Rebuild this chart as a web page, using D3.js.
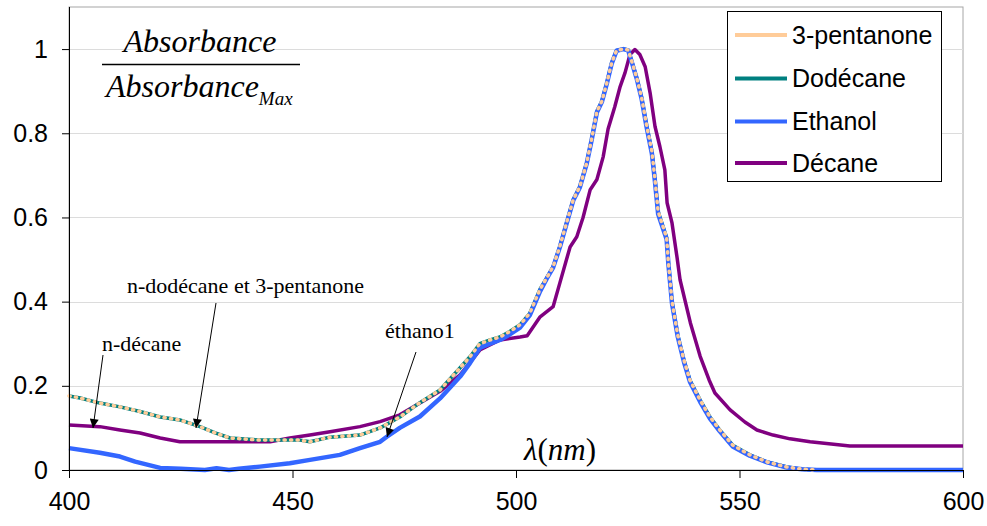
<!DOCTYPE html>
<html>
<head>
<meta charset="utf-8">
<script src="https://cdn.jsdelivr.net/npm/d3@7"></script>
<style>
  html, body { margin: 0; padding: 0; background: #fff; }
  svg { display: block; }
</style>
</head>
<body>
<svg id="chart" width="987" height="526"></svg>
<script>
// ---------- DATA ----------
const xTicks = [400, 450, 500, 550, 600];
const yTicks = [0, 0.2, 0.4, 0.6, 0.8, 1];
const yTickLabels = ["0", "0.2", "0.4", "0.6", "0.8", "1"];
const seriesNames = ["3-pentanone", "Dodécane", "Ethanol", "Décane"];

const dodecaneX = [400, 402.5, 406.9, 411.4, 415.9, 420.4, 424.8, 429.3, 432.7, 436.0, 442.7, 451.7, 453.9, 458.4, 465.1, 469.6, 474.0, 478.5, 483.0, 487.5, 489.7, 491.9, 494.2, 496.4, 498.6, 500.9, 503.1, 505.4, 506.9, 508.3, 509.8, 511.3, 512.8, 514.3, 515.8, 516.9, 518.1, 519.2, 520.3, 521.4, 522.5, 524.0, 525.1, 525.9, 527.0, 528.1, 529.2, 530.4, 531.1, 531.8, 533.7, 534.1, 534.9, 536.2, 537.6, 538.9, 541.2, 543.4, 545.6, 548.5, 552.3, 556.2, 560.6, 564.0, 567.3];
const dodecaneY = [0.176, 0.171, 0.159, 0.150, 0.139, 0.126, 0.119, 0.103, 0.088, 0.076, 0.071, 0.071, 0.067, 0.078, 0.083, 0.100, 0.126, 0.160, 0.190, 0.243, 0.269, 0.300, 0.309, 0.316, 0.329, 0.345, 0.373, 0.430, 0.457, 0.483, 0.531, 0.587, 0.642, 0.674, 0.729, 0.785, 0.852, 0.876, 0.919, 0.967, 0.997, 1.000, 0.998, 0.971, 0.932, 0.885, 0.820, 0.757, 0.690, 0.614, 0.552, 0.492, 0.400, 0.320, 0.260, 0.214, 0.166, 0.126, 0.095, 0.059, 0.036, 0.019, 0.007, 0.002, 0.000];

const pentanoneX = [400, 402.5, 406.9, 411.4, 415.9, 420.4, 424.8, 429.3, 432.7, 436.0, 442.7, 451.7, 453.9, 458.4, 465.1, 469.6, 474.0, 478.5, 483.0, 487.5, 489.7, 491.9, 494.2, 496.4, 498.6, 500.9, 503.1, 505.4, 506.9, 508.3, 509.8, 511.3, 512.8, 514.3, 515.8, 516.9, 518.1, 519.2, 520.3, 521.4, 522.5, 524.0, 525.1, 525.9, 527.0, 528.1, 529.2, 530.4, 531.1, 531.8, 533.7, 534.1, 534.9, 536.2, 537.6, 538.9, 541.2, 543.4, 545.6, 548.5, 552.3, 556.2, 560.6, 564.0, 567.3];
const pentanoneY = [0.176, 0.171, 0.159, 0.150, 0.139, 0.126, 0.119, 0.103, 0.088, 0.076, 0.071, 0.071, 0.067, 0.078, 0.083, 0.100, 0.126, 0.160, 0.190, 0.243, 0.269, 0.300, 0.309, 0.316, 0.329, 0.345, 0.373, 0.430, 0.457, 0.483, 0.531, 0.587, 0.642, 0.674, 0.729, 0.785, 0.852, 0.876, 0.919, 0.967, 0.997, 1.000, 0.998, 0.971, 0.932, 0.885, 0.820, 0.757, 0.690, 0.614, 0.552, 0.492, 0.400, 0.320, 0.260, 0.214, 0.166, 0.126, 0.095, 0.059, 0.036, 0.019, 0.007, 0.002, 0.000];

const ethanolX = [400, 406.9, 411.4, 414.8, 420.4, 425.0, 430.4, 433.0, 435.8, 438.0, 442.7, 449.4, 453.9, 460.6, 465.1, 469.6, 471.1, 474.0, 478.5, 483.0, 487.5, 489.7, 491.9, 494.2, 496.4, 498.6, 500.9, 503.1, 505.4, 506.9, 508.3, 509.8, 511.3, 512.8, 514.3, 515.8, 516.9, 518.1, 519.2, 520.3, 521.4, 522.5, 524.0, 525.1, 525.9, 527.0, 528.1, 529.2, 530.4, 531.1, 531.8, 533.7, 534.1, 534.9, 536.2, 537.6, 538.9, 541.2, 543.4, 545.6, 548.5, 552.3, 556.2, 560.6, 564.0, 567.3, 580.0, 600.0];
const ethanolY = [0.052, 0.041, 0.032, 0.020, 0.005, 0.003, 0.000, 0.004, 0.000, 0.003, 0.008, 0.016, 0.024, 0.036, 0.052, 0.067, 0.079, 0.100, 0.127, 0.170, 0.222, 0.254, 0.290, 0.300, 0.309, 0.322, 0.338, 0.368, 0.425, 0.455, 0.481, 0.529, 0.585, 0.640, 0.672, 0.727, 0.783, 0.850, 0.874, 0.917, 0.965, 0.996, 1.000, 0.997, 0.969, 0.930, 0.882, 0.816, 0.752, 0.684, 0.608, 0.548, 0.488, 0.396, 0.316, 0.256, 0.210, 0.162, 0.122, 0.092, 0.056, 0.034, 0.018, 0.006, 0.002, 0.000, 0.000, 0.000];

const decaneX = [400, 406.9, 411.4, 415.9, 420.4, 424.8, 445.0, 449.4, 453.9, 458.4, 465.1, 469.6, 474.0, 478.5, 483.0, 487.5, 491.9, 496.4, 500.9, 502.5, 505.4, 508.3, 509.8, 512.1, 513.6, 515.0, 516.6, 518.1, 519.5, 520.6, 522.1, 523.3, 524.4, 525.5, 526.6, 527.7, 528.9, 530.0, 531.1, 532.2, 533.3, 533.8, 534.9, 536.0, 536.7, 539.0, 541.2, 543.2, 544.5, 547.9, 551.2, 553.9, 557.5, 561.3, 565.8, 574.7, 600];
const decaneY = [0.107, 0.103, 0.095, 0.088, 0.076, 0.067, 0.067, 0.076, 0.083, 0.091, 0.103, 0.115, 0.131, 0.159, 0.187, 0.226, 0.285, 0.309, 0.316, 0.319, 0.364, 0.388, 0.444, 0.530, 0.554, 0.600, 0.666, 0.690, 0.744, 0.810, 0.863, 0.911, 0.944, 0.987, 0.999, 0.987, 0.958, 0.896, 0.816, 0.768, 0.713, 0.635, 0.587, 0.507, 0.452, 0.350, 0.270, 0.214, 0.183, 0.143, 0.114, 0.095, 0.083, 0.074, 0.067, 0.057, 0.057];

// ---------- CHART ----------
const svg = d3.select("#chart");
const L = 69, R = 963, T = 7, B = 470;
const x = d3.scaleLinear().domain([400, 600]).range([L, R]);
const y = d3.scaleLinear().domain([0, 1.1]).range([B, T]);

const sans = "'Liberation Sans', Arial, sans-serif";
const serif = "'Liberation Serif', 'Times New Roman', serif";

// plot frame (top/right grey)
svg.append("rect").attr("x", L).attr("y", T).attr("width", R - L).attr("height", B - T)
  .attr("fill", "none").attr("stroke", "#a6a6a6").attr("stroke-width", 1);

// gridlines
svg.append("g").selectAll("line").data(yTicks.filter(d => d > 0)).join("line")
  .attr("x1", L).attr("x2", R)
  .attr("y1", d => Math.round(y(d)) + 0.5).attr("y2", d => Math.round(y(d)) + 0.5)
  .attr("stroke", "#dcdcdc").attr("stroke-width", 1);

// lines
const mk = (xs, ys) => xs.map((v, i) => [v, ys[i]]);
const line = d3.line().x(d => x(d[0])).y(d => y(d[1]));

svg.append("path").datum(mk(decaneX, decaneY)).attr("d", line)
  .attr("fill", "none").attr("stroke", "#800080").attr("stroke-width", 3.5).attr("stroke-linejoin", "round");
svg.append("path").datum(mk(dodecaneX, dodecaneY)).attr("d", line)
  .attr("fill", "none").attr("stroke", "#008080").attr("stroke-width", 3.5).attr("stroke-linejoin", "round");
svg.append("path").datum(mk(ethanolX, ethanolY)).attr("d", line)
  .attr("fill", "none").attr("stroke", "#3366ff").attr("stroke-width", 4.5).attr("stroke-linejoin", "round");
svg.append("path").datum(mk(pentanoneX, pentanoneY)).attr("d", line)
  .attr("fill", "none").attr("stroke", "#ffcc99").attr("stroke-width", 3.5)
  .attr("stroke-linecap", "round").attr("stroke-dasharray", "1.2,5.3").attr("stroke-linejoin", "round");

// axes
const xAxis = d3.axisBottom(x).tickValues(xTicks).tickSize(8).tickPadding(14).tickFormat(d3.format("d"));
const yAxis = d3.axisLeft(y).tickValues(yTicks).tickSize(7).tickPadding(14).tickFormat((d, i) => yTickLabels[i]);

const gx = svg.append("g").attr("transform", `translate(0,${B})`).call(xAxis);
const gy = svg.append("g").attr("transform", `translate(${L},0)`).call(yAxis);
[gx, gy].forEach(g => {
  g.select(".domain").attr("stroke", "#000").attr("stroke-width", 1);
  g.selectAll(".tick line").attr("stroke", "#000");
  g.selectAll(".tick text").attr("font-family", sans).attr("font-size", 25).attr("fill", "#000");
});
gx.select(".domain").attr("d", `M${L},0.5H${R}`);
gy.select(".domain").attr("d", `M0.5,${B}V${T}`);

// y-axis title as fraction
svg.append("text").attr("x", 200).attr("y", 52).attr("text-anchor", "middle")
  .attr("font-family", serif).attr("font-style", "italic").attr("font-size", 32)
  .text("Absorbance");
svg.append("line").attr("x1", 102).attr("x2", 300).attr("y1", 64.5).attr("y2", 64.5)
  .attr("stroke", "#000").attr("stroke-width", 1.5);
const t2 = svg.append("text").attr("x", 106).attr("y", 97)
  .attr("font-family", serif).attr("font-style", "italic").attr("font-size", 32);
t2.append("tspan").text("Absorbance");
t2.append("tspan").attr("font-size", 19).attr("dy", 8).text("Max");

// x-axis title
const lt = svg.append("text").attr("x", 524).attr("y", 460)
  .attr("font-family", serif).attr("font-style", "italic").attr("font-size", 31);
lt.append("tspan").text("λ");
lt.append("tspan").attr("font-style", "normal").text("(");
lt.append("tspan").text("nm");
lt.append("tspan").attr("font-style", "normal").text(")");

// annotations
svg.append("defs").append("marker").attr("id", "arr")
  .attr("viewBox", "0 0 10 10").attr("refX", 10).attr("refY", 5)
  .attr("markerWidth", 11).attr("markerHeight", 9).attr("markerUnits", "userSpaceOnUse")
  .attr("orient", "auto")
  .append("path").attr("d", "M0,0L10,5L0,10Z").attr("fill", "#000");

const ann = [
  { text: "n-dodécane et 3-pentanone", tx: 127, ty: 293, x1: 216, y1: 303, x2: 196, y2: 428 },
  { text: "n-décane", tx: 102, ty: 351, x1: 103, y1: 355, x2: 93, y2: 428 },
  { text: "éthano1", tx: 385, ty: 338, x1: 416, y1: 352, x2: 387, y2: 437 }
];
ann.forEach(a => {
  svg.append("text").attr("x", a.tx).attr("y", a.ty).attr("font-family", serif)
    .attr("font-size", 22).attr("fill", "#000").text(a.text);
  svg.append("line").attr("x1", a.x1).attr("y1", a.y1).attr("x2", a.x2).attr("y2", a.y2)
    .attr("stroke", "#000").attr("stroke-width", 1).attr("marker-end", "url(#arr)");
});

// legend
const lg = svg.append("g");
lg.append("rect").attr("x", 727.5).attr("y", 11.5).attr("width", 214).attr("height", 170)
  .attr("fill", "#fff").attr("stroke", "#000").attr("stroke-width", 1);
const legColors = ["#ffcc99", "#008080", "#3366ff", "#800080"];
const legY = [35, 78.5, 121.5, 163];
seriesNames.forEach((n, i) => {
  lg.append("line").attr("x1", 735).attr("x2", 787).attr("y1", legY[i]).attr("y2", legY[i])
    .attr("stroke", legColors[i]).attr("stroke-width", 4);
  lg.append("text").attr("x", 792).attr("y", legY[i]).attr("dy", "0.35em")
    .attr("font-family", sans).attr("font-size", 25).attr("fill", "#000").text(n);
});
</script>
</body>
</html>
